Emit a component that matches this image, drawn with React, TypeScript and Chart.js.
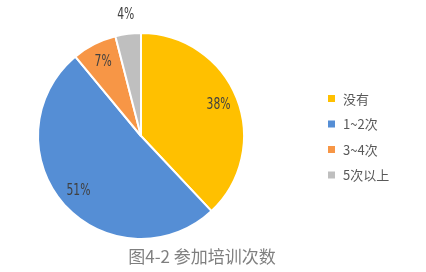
import React, { useEffect, useRef } from "react";
import { Chart, registerables } from "chart.js";

Chart.register(...registerables);

const categories = ["没有", "1~2次", "3~4次", "5次以上"];
const values = [38, 51, 7, 4];
const colors = ["#FFC000", "#558ED5", "#F79646", "#BFBFBF"];
const chartTitle = "图4-2 参加培训次数";

const overlay = {
  id: "overlay",
  afterDatasetsDraw(chart: any) {
    const ctx = chart.ctx as CanvasRenderingContext2D;
    const meta = chart.getDatasetMeta(0);
    const total = values.reduce((a, b) => a + b, 0);
    ctx.save();
    ctx.font = "15px 'DejaVu Sans', sans-serif";
    ctx.fillStyle = "#404040";
    ctx.textAlign = "center";
    ctx.textBaseline = "middle";
    meta.data.forEach((arc: any, i: number) => {
      const p = arc.getProps(["x", "y", "startAngle", "endAngle", "outerRadius"], true);
      const mid = (p.startAngle + p.endAngle) / 2;
      const pct = Math.round((values[i] / total) * 100);
      const f = pct < 5 ? 1.18 : 0.81;
      const r = p.outerRadius * f;
      const x = p.x + Math.cos(mid) * r;
      const y = p.y + Math.sin(mid) * r;
      ctx.save();
      ctx.translate(x, y);
      ctx.scale(0.72, 1);
      ctx.fillText(pct + "%", 0, 0);
      ctx.restore();
    });
    // legend
    ctx.font = "13px 'Noto Sans CJK SC', sans-serif";
    ctx.textAlign = "left";
    categories.forEach((c, i) => {
      const y = 98.5 + i * 25.5;
      ctx.fillStyle = colors[i];
      ctx.fillRect(328, y - 3.5, 7, 7);
      ctx.fillStyle = "#595959";
      ctx.fillText(c, 343, y + 0.5);
    });
    // title
    ctx.font = "17px 'Noto Sans CJK SC', sans-serif";
    ctx.textAlign = "center";
    ctx.fillStyle = "#7F7F7F";
    ctx.fillText(chartTitle, 202, 257);
    ctx.restore();
  },
};

export default function App() {
  const ref = useRef<HTMLCanvasElement>(null);
  useEffect(() => {
    document.body.style.margin = "0";
    const chart = new Chart(ref.current!, {
      type: "pie",
      data: {
        labels: categories,
        datasets: [
          {
            data: values,
            backgroundColor: colors,
            borderColor: "#FFFFFF",
            borderWidth: 2,
          },
        ],
      },
      options: {
        animation: false,
        responsive: false,
        layout: { padding: { left: 37, top: 32, right: 181, bottom: 32 } },
        plugins: { legend: { display: false }, tooltip: { enabled: false }, title: { display: false } },
      },
      plugins: [overlay],
    });
    return () => chart.destroy();
  }, []);
  return (
    <div style={{ width: 426, height: 272, background: "#fff" }}>
      <canvas ref={ref} width={426} height={272} style={{ display: "block" }} />
    </div>
  );
}
